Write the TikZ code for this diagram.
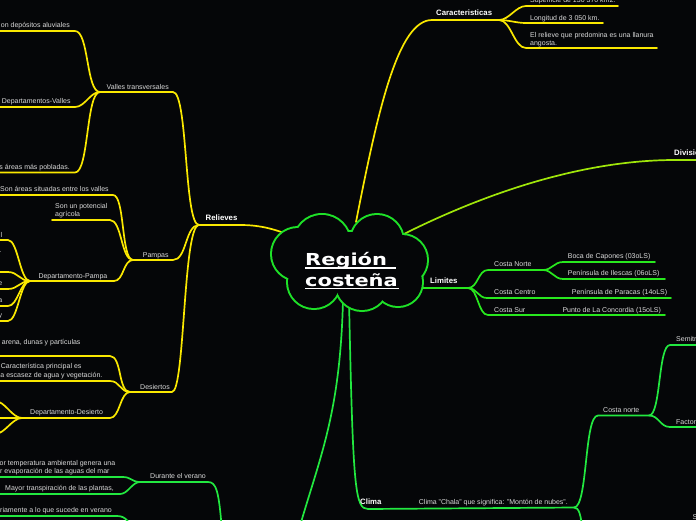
\documentclass[tikz,border=0pt]{standalone}
\usepackage{fontspec}
\setmainfont{Liberation Sans}
\newfontfamily\titlefont{DejaVu Sans}[FakeStretch=1.27]
\usetikzlibrary{calc}
\definecolor{bg}{RGB}{5,6,8}
\definecolor{yel}{RGB}{250,232,0}
\definecolor{grn}{RGB}{34,232,64}
\definecolor{lgrn}{RGB}{40,232,30}
\definecolor{ygrn}{RGB}{160,230,10}
\definecolor{txt}{RGB}{218,218,218}
\definecolor{cloudg}{RGB}{30,225,40}
\tikzset{
  br/.style={line width=1.7pt, line cap=round},
  ybr/.style={br, draw=yel},
  gbr/.style={br, draw=grn},
  lgbr/.style={br, draw=lgrn},
  tx/.style={text=txt, font=\fontsize{7}{8}\selectfont, inner sep=0pt, anchor=base west},
  txr/.style={tx, anchor=base east},
  hd/.style={tx, text=white, font=\fontsize{7.8}{9}\selectfont\bfseries},
  ttl/.style={text=white, font=\titlefont\bfseries\fontsize{16.5}{18}\selectfont, inner sep=0pt, anchor=base west},
  sc/.style={out=0, in=180, distance=#1},
}
\begin{document}
\begin{tikzpicture}[x=1pt,y=-1pt]
\useasboundingbox (0,0) rectangle (696,520);
\fill[bg] (0,0) rectangle (696,520);

% ---------- Caracteristicas ----------
\coordinate (rC) at (356,222);
\coordinate (c1) at (432,20);
\coordinate (K) at (499,20);
\draw[ybr] (rC) .. controls (378,110) and (398,20) .. (c1) -- (K);
\node[hd] (car) at (436,15.5) {Caracteristicas};
\coordinate (k1a) at (526,6);  \coordinate (k1b) at (618,6);
\coordinate (k2a) at (526,23); \coordinate (k2b) at (603,23);
\coordinate (k3a) at (526,48); \coordinate (k3b) at (657,48);
\draw[ybr] (K) to[sc=10pt] (k1a) -- (k1b);
\draw[ybr] (K) to[sc=10pt] (k2a) -- (k2b);
\draw[ybr] (K) to[sc=12pt] (k3a) -- (k3b);
\node[tx] (sup) at (530,2.5) {Superficie de 130 370 km2.};
\node[tx] (lon) at (530,20) {Longitud de 3 050 km.};
\node[tx] (rl1) at (530,37.5) {El relieve que predomina es una llanura};
\node[tx] (rl2) at (530,45.5) {angosta.};

% ---------- Division ----------
\coordinate (rD) at (396,238);
\coordinate (d1) at (675,160); \coordinate (d2) at (700,160);
\draw[br, draw=ygrn] (rD) .. controls (480,195) and (580,160) .. (d1) -- (d2);
\node[hd] (div) at (674,155) {División};

% ---------- Limites ----------
\coordinate (rL) at (412,288); \coordinate (L) at (468,288);
\draw[lgbr] (rL) -- (L);
\node[hd] (lim) at (430,283.5) {Limites};
\coordinate (cn1) at (488,270); \coordinate (CN) at (543,270);
\draw[lgbr] (L) to[sc=10pt] (cn1) -- (CN);
\coordinate (b1) at (563,262); \coordinate (b2) at (655,262);
\coordinate (i1) at (563,279); \coordinate (i2) at (665,279);
\draw[lgbr] (CN) to[sc=9pt] (b1) -- (b2);
\draw[lgbr] (CN) to[sc=9pt] (i1) -- (i2);
\coordinate (cc1) at (487,298); \coordinate (cc2) at (671,298);
\draw[lgbr] (L) to[sc=9pt] (cc1) -- (cc2);
\coordinate (cs1) at (488,315); \coordinate (cs2) at (665,315);
\draw[lgbr] (L) to[sc=10pt] (cs1) -- (cs2);
\node[tx] (cno) at (494,266.5) {Costa Norte};
\node[tx] (boc) at (567.7,258) {Boca de Capones (03oLS)};
\node[tx] (ile) at (567.7,275.5) {Península de Ilescas (06oLS)};
\node[tx] (cce) at (494,294.5) {Costa Centro};
\node[tx] (par) at (571.7,294.5) {Península de Paracas (14oLS)};
\node[tx] (csu) at (494,312) {Costa Sur};
\node[tx] (con) at (562.3,312) {Punto de La Concordia (15oLS)};

% ---------- Clima ----------
\coordinate (rK) at (349,300);
\coordinate (k0) at (368,509);
\coordinate (CL) at (574,507.5);
\draw[gbr] (rK) .. controls (353,490) and (355,509) .. (k0) -- (CL);
\node[hd] (cli) at (360,504.5) {Clima};
\node[tx] (cha) at (418.7,504.5) {Clima "Chala" que significa: "Montón de nubes".};
\coordinate (cn2a) at (598,415.5); \coordinate (CN2) at (649,415.5);
\draw[gbr] (CL) to[sc=14pt] (cn2a) -- (CN2);
\node[tx] (cnr) at (603,412) {Costa norte};
\coordinate (sa) at (670,345); \coordinate (sb) at (700,345);
\coordinate (fa) at (670,427); \coordinate (fb) at (700,427);
\draw[gbr] (CN2) to[sc=12pt] (sa) -- (sb);
\draw[gbr] (CN2) to[sc=10pt] (fa) -- (fb);
\node[tx] (sem) at (676,341) {Semitropical};
\node[tx] (fac) at (676,424.5) {Factores};
\coordinate (clOut) at (583,535);
\draw[gbr] (CL) .. controls (579,507.5) and (581,514) .. (clOut);
\node[tx] (s) at (692.3,519.5) {S};

% ---------- other lower branch ----------
\coordinate (rX) at (343,300); \coordinate (xOut) at (296,540);
\draw[gbr] (rX) .. controls (340,420) and (318,460) .. (xOut);

% ---------- Relieves ----------
\coordinate (rR) at (292,236);
\coordinate (r1) at (240,225);
\coordinate (R) at (199,225);
\draw[ybr] (rR) .. controls (272,228) and (258,225) .. (r1) -- (R);
\node[hd] (rel) at (205.5,220.5) {Relieves};

% Valles transversales
\coordinate (V) at (100,92); \coordinate (v1) at (173,92);
\draw[ybr] (V) -- (v1) .. controls (188,92) and (184,225) .. (R);
\node[tx] (val) at (106.5,89.5) {Valles transversales};
\coordinate (va0) at (-5,31);    \coordinate (va1) at (75,31);
\coordinate (vb0) at (-5,107);   \coordinate (vb1) at (75,107);
\coordinate (vc0) at (-5,172.5); \coordinate (vc1) at (75,172.5);
\draw[ybr] (va0) -- (va1) to[sc=14pt] (V);
\draw[ybr] (vb0) -- (vb1) to[sc=10pt] (V);
\draw[ybr] (vc0) -- (vc1) to[sc=14pt] (V);
\node[txr] (vat) at (70,27) {on depósitos aluviales};
\node[tx] (vbt) at (1.7,103.5) {Departamentos-Valles};
\node[txr] (vct) at (70,169) {s áreas más pobladas.};

% Pampas
\coordinate (P) at (133,260); \coordinate (p1) at (173,260);
\draw[ybr] (P) -- (p1) to[sc=14pt] (R);
\node[tx] (pam) at (142.7,257) {Pampas};
\coordinate (pa0) at (-5,195); \coordinate (pa1) at (113,195);
\coordinate (pb0) at (52,220); \coordinate (pb1) at (110,220);
\draw[ybr] (pa0) -- (pa1) to[sc=12pt] (P);
\draw[ybr] (pb0) -- (pb1) to[sc=12pt] (P);
\node[tx] (pat) at (0,191) {Son áreas situadas entre los valles};
\node[tx] (pbt1) at (55,208) {Son un potencial};
\node[tx] (pbt2) at (55,216) {agrícola};
\coordinate (DP) at (30,281); \coordinate (pc1) at (114,281);
\draw[ybr] (DP) -- (pc1) to[sc=10pt] (P);
\node[tx] (pct) at (38.3,278.7) {Departamento-Pampa};
\foreach \yy/\nm in {240/e1, 272/e2, 289/e3, 306/e4, 321/e5}{
  \coordinate (\nm a) at (-5,\yy);
  \coordinate (\nm b) at (8,\yy);
  \draw[ybr] (\nm a) -- (\nm b) to[sc=10pt] (DP);
}
\node[txr] (f1) at (2.4,237) {l};
\node[txr] (f2) at (1.6,252.5) {.};
\node[txr] (f3) at (2.4,285.5) {e};
\node[txr] (f4) at (2.4,302.5) {a};
\node[txr] (f5) at (2.4,317.5) {y};

% Desiertos
\coordinate (D) at (130,392); \coordinate (ds1) at (172,392);
\draw[ybr] (D) -- (ds1) .. controls (185,392) and (183,225) .. (R);
\node[tx] (des) at (140,389.5) {Desiertos};
\coordinate (da0) at (-5,356); \coordinate (da1) at (110,356);
\coordinate (db0) at (-5,381); \coordinate (db1) at (110,381);
\draw[ybr] (da0) -- (da1) to[sc=12pt] (D);
\draw[ybr] (db0) -- (db1) to[sc=10pt] (D);
\node[tx] (dat) at (1.7,344.5) {arena, dunas y partículas};
\node[tx] (dbt1) at (0.7,368.7) {Característica principal es};
\node[tx] (dbt2) at (-1.3,377) {la escasez de agua y vegetación.};
\coordinate (DD) at (22,418); \coordinate (dc1) at (110,418);
\draw[ybr] (DD) -- (dc1) to[sc=10pt] (D);
\node[tx] (dct) at (30,414) {Departamento-Desierto};
\coordinate (dd1) at (-5,401); \coordinate (dd2) at (-5,418); \coordinate (dd3) at (-5,434);
\draw[ybr] (dd1) to[sc=10pt] (DD);
\draw[ybr] (dd2) -- (DD);
\draw[ybr] (dd3) to[sc=10pt] (DD);

% ---------- Durante el verano ----------
\coordinate (DV) at (140,482); \coordinate (dv1) at (208,482);
\coordinate (dvOut) at (222,532);
\draw[gbr] (DV) -- (dv1) .. controls (216,482) and (219,490) .. (dvOut);
\node[tx] (dvt) at (150,478) {Durante el verano};
\coordinate (ta0) at (-5,477); \coordinate (ta1) at (123,477);
\coordinate (tb0) at (-5,494); \coordinate (tb1) at (120,494);
\coordinate (tc0) at (-5,516); \coordinate (tc1) at (117,516);
\coordinate (tcOut) at (133,535);
\draw[gbr] (ta0) -- (ta1) to[sc=8pt] (DV);
\draw[gbr] (tb0) -- (tb1) to[sc=8pt] (DV);
\draw[gbr] (tc0) -- (tc1) .. controls (126,516) and (130,522) .. (tcOut);
\node[tx] (tat1) at (-0.5,465.5) {or temperatura ambiental genera una};
\node[tx] (tat2) at (0,473.5) {r evaporación de las aguas del mar};
\node[tx] (tbt) at (5,490) {Mayor transpiración de las plantas,};
\node[tx] (tct) at (0,512) {riamente a lo que sucede en verano};

% ---------- central cloud ----------
\def\cloudlist{322/243/28, 377/241/26, 402/260/25, 398/282/24, 362/284/26, 314/282/26, 298/254/26, 350/262/30}
\foreach \cx/\cy/\rr in \cloudlist
  \draw[cloudg, line width=4pt] (\cx,\cy) circle[radius=\rr pt];
\foreach \cx/\cy/\rr in \cloudlist
  \fill[bg] (\cx,\cy) circle[radius=\rr pt];
\node[ttl] (t1) at (305,265.5) {Región};
\node[ttl] (t2) at (305,286) {costeña};
\draw[white, line width=1.5pt] (305,268) -- (396,268);
\draw[white, line width=1.5pt] (305,288.5) -- (399,288.5);
\end{tikzpicture}
\end{document}
